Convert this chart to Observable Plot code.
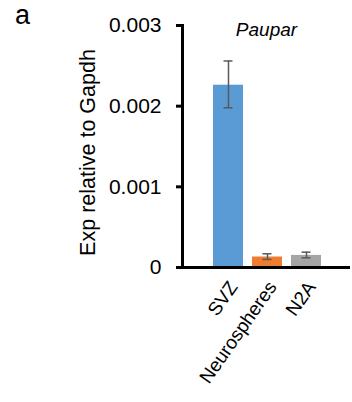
<!DOCTYPE html>
<html><head><meta charset="utf-8">
<script src="https://cdn.jsdelivr.net/npm/d3@7"></script>
<script src="https://cdn.jsdelivr.net/npm/@observablehq/plot@0.6"></script>
<style>body{margin:0;background:#fff}</style>
</head><body><div id="chart"></div>
<script>
const categories = ["SVZ", "Neurospheres", "N2A"];
const values = [0.00226, 0.00013, 0.00015];
const errLow = [0.00198, 0.00010, 0.00012];
const errHigh = [0.00256, 0.00017, 0.00019];
const colors = ["#5B9BD5", "#ED7D31", "#A5A5A5"];
const yTicks = [0, 0.001, 0.002, 0.003];
const title = "Paupar";
const yLabel = "Exp relative to Gapdh";
const panel = "a";

const data = categories.map((c, i) => ({cat: c, v: values[i], lo: errLow[i], hi: errHigh[i], col: colors[i]}));
const font = "'Liberation Sans', Arial, sans-serif";

const chart = Plot.plot({
  width: 352, height: 402,
  marginLeft: 182, marginRight: 2, marginTop: 25, marginBottom: 135,
  style: {fontFamily: font, background: "#fff", color: "#000"},
  x: {domain: categories, range: [212, 323], paddingInner: 0.22, paddingOuter: 0},
  y: {domain: [0, 0.003]},
  marks: [
    Plot.barY(data, {x: "cat", y: "v", fill: "col"}),
    Plot.ruleX(data, {x: "cat", y1: "lo", y2: "hi", stroke: "#595959", strokeWidth: 1.5}),
    Plot.tickY(data, {x: "cat", y: "lo", stroke: "#595959", strokeWidth: 1.5, insetLeft: 10.5, insetRight: 10.5}),
    Plot.tickY(data, {x: "cat", y: "hi", stroke: "#595959", strokeWidth: 1.5, insetLeft: 10.5, insetRight: 10.5}),
    Plot.ruleY(yTicks, {y: d => d, stroke: "#000", strokeWidth: 3, dx: -6, insetRight: 162}),
    Plot.frame({anchor: "left", strokeWidth: 3}),
    Plot.ruleY([0], {strokeWidth: 3}),
    Plot.axisY({ticks: yTicks, tickSize: 0, tickPadding: 21, fontSize: 21, label: null,
      tickFormat: d => d === 0 ? "0" : d3.format(".3f")(d)}),
    Plot.axisX({tickSize: 0, tickPadding: 16, tickRotate: -55, fontSize: 19, dx: 5, label: null}),
    Plot.text([yLabel], {frameAnchor: "left", rotate: -90, dx: -94, dy: 6, fontSize: 21.5, textAnchor: "middle", lineAnchor: "middle"}),
    Plot.text([title], {frameAnchor: "top", dy: 4, fontSize: 19, fontStyle: "italic", lineAnchor: "middle"}),
    Plot.text([panel], {frameAnchor: "top-left", dx: -160, dy: -21, fontSize: 27, textAnchor: "middle", lineAnchor: "top"})
  ]
});
document.getElementById("chart").appendChild(chart);
</script>
</body></html>
